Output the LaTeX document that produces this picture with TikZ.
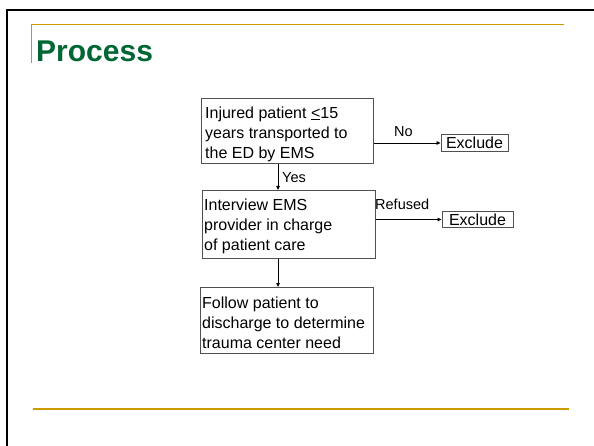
\documentclass[tikz,border=0pt]{standalone}
\usepackage{fontspec}
\setmainfont{Liberation Sans}
\usetikzlibrary{arrows.meta,calc}
\definecolor{framegold}{RGB}{204,153,0}
\definecolor{titlegreen}{RGB}{0,102,51}
\definecolor{boxgray}{RGB}{80,80,80}
\begin{document}
\begin{tikzpicture}[x=1pt,y=-1pt,
  stepbox/.style={draw=boxgray, line width=0.9pt, inner sep=0pt, anchor=north west},
  boxtext/.style={anchor=north west, inner sep=0pt, align=left, font=\fontsize{16}{20}\selectfont},
  exbox/.style={draw=boxgray, line width=0.9pt, inner sep=0pt, minimum height=16.5pt, font=\fontsize{16}{20}\selectfont},
  lbl/.style={anchor=base west, inner sep=0pt, font=\fontsize{14.5}{18}\selectfont},
  arr/.style={line width=0.8pt, -{Triangle[length=4pt,width=3.5pt]}}]
\useasboundingbox (0,0) rectangle (594,446);
% slide frame
\draw[line width=2pt] (6.5,446) -- (6.5,10) -- (594,10);
\draw[framegold, line width=1pt] (31.5,63) -- (31.5,24.5) -- (564,24.5);
\draw[framegold, line width=2.2pt] (33,409) -- (569,409);
% title
\node[anchor=base west, inner sep=0pt, text=titlegreen,
  font=\fontsize{30}{36}\bfseries\selectfont] (title) at (36,62) {Process};
% boxes
\node[stepbox, minimum width=172pt, minimum height=65pt] (b1) at (201,98) {};
\node[stepbox, minimum width=173pt, minimum height=68pt] (b2) at (202,190) {};
\node[stepbox, minimum width=173pt, minimum height=66pt] (b3) at (200,287) {};
\node[boxtext] (t1) at (205,106.4) {Injured patient \underline{<}15\\years transported to\\the ED by EMS};
\node[boxtext] (t2) at (204,198.4) {Interview EMS\\provider in charge\\of patient care};
\node[boxtext] (t3) at (202,296.6) {Follow patient to\\discharge to determine\\trauma center need};
% exclude boxes
\node[exbox, minimum width=67pt] (ex1) at (474.5,143) {Exclude};
\node[exbox, minimum width=71pt] (ex2) at (477.5,219.5) {Exclude};
% connectors
\draw[arr] (b1.east |- ex1.west) -- (ex1.west);
\draw[arr] (b2.east |- ex2.west) -- (ex2.west);
\draw[arr] ($(b1.south west)+(77,0)$) -- ($(b2.north west)+(76,0)$);
\draw[arr] ($(b2.south west)+(76,0)$) -- ($(b3.north west)+(78,0)$);
% labels
\node[lbl] (lno) at (394,137) {No};
\node[lbl] (lyes) at (282,183) {Yes};
\node[lbl] (lref) at (375,210) {Refused};
\end{tikzpicture}
\end{document}
